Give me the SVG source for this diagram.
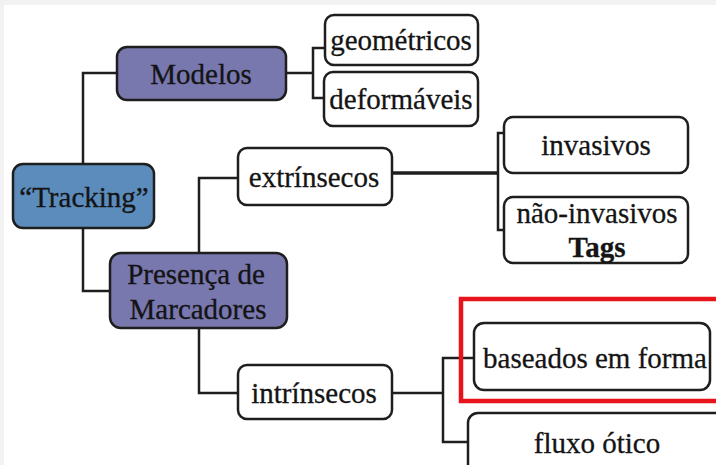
<svg xmlns="http://www.w3.org/2000/svg" width="716" height="465" viewBox="0 0 716 465">
  <style>
    .box { stroke: #1e1e1e; stroke-width: 2.5; }
    .leaf { fill: #ffffff; }
    .root { fill: #5b8cbc; }
    .branch { fill: #7877ae; }
    .lbl { font-family: 'Liberation Serif', 'Times New Roman', Tinos, 'DejaVu Serif', serif; font-size: 29px; fill: #141414; stroke: #141414; stroke-width: 0.3; text-anchor: middle; }
    .bold { font-weight: bold; }
    .wire { fill: none; stroke: #1e1e1e; stroke-width: 2.5; }
    .thick { stroke-width: 3.5; }
  </style>

  <!-- page -->
  <rect x="0" y="0" width="716" height="465" fill="#f2f2f2"/>
  <rect x="4" y="5" width="712" height="460" fill="#ffffff"/>

  <!-- connectors -->
  <g id="connectors">
    <path class="wire" d="M83,164 V73 H117"/>
    <path class="wire" d="M83,228 V291 H110"/>
    <path class="wire" d="M286,73 H313 M325,48 H313 V98 H325"/>
    <path class="wire" d="M199,253 V178 H238"/>
    <path class="wire" d="M199,328 V393 H238"/>
    <path class="wire thick" d="M392,173 H498"/>
    <path class="wire" d="M504,133 H498 V230 H504"/>
    <path class="wire" d="M392,393 H443 M474,358 H443 V442 H469"/>
  </g>

  <g id="tracking">
    <rect class="box root" x="13" y="164" width="141" height="64" rx="10"/>
    <text class="lbl" x="84" y="207">“Tracking”</text>
  </g>

  <g id="modelos">
    <rect class="box branch" x="117" y="47" width="169" height="53" rx="10"/>
    <text class="lbl" x="201" y="84">Modelos</text>
  </g>

  <g id="geometricos">
    <rect class="box leaf" x="325" y="15" width="153" height="50" rx="9"/>
    <text class="lbl" x="401" y="50">geométricos</text>
  </g>

  <g id="deformaveis">
    <rect class="box leaf" x="324" y="72" width="154" height="54" rx="9"/>
    <text class="lbl" x="401" y="109">deformáveis</text>
  </g>

  <g id="presenca">
    <rect class="box branch" x="110" y="253" width="177" height="75" rx="11"/>
    <text class="lbl" x="196" y="284">Presença de</text>
    <text class="lbl" x="198" y="319">Marcadores</text>
  </g>

  <g id="extrinsecos">
    <rect class="box leaf" x="238" y="148" width="154" height="57" rx="9"/>
    <text class="lbl" x="314" y="187">extrínsecos</text>
  </g>

  <g id="invasivos">
    <rect class="box leaf" x="504" y="117" width="184" height="56" rx="9"/>
    <text class="lbl" x="596" y="155">invasivos</text>
  </g>

  <g id="nao-invasivos">
    <rect class="box leaf" x="504" y="197" width="184" height="66" rx="9"/>
    <text class="lbl" x="597" y="223">não-invasivos</text>
    <text class="lbl bold" x="597" y="257">Tags</text>
  </g>

  <g id="intrinsecos">
    <rect class="box leaf" x="238" y="365" width="154" height="54" rx="9"/>
    <text class="lbl" x="314" y="403">intrínsecos</text>
  </g>

  <g id="baseados">
    <rect x="461" y="299" width="270" height="102" fill="none" stroke="#e8141c" stroke-width="4.5"/>
    <rect class="box leaf" x="474" y="323" width="236" height="67" rx="10"/>
    <text class="lbl" x="595" y="368">baseados em forma</text>
  </g>

  <g id="fluxo">
    <rect class="box leaf" x="468" y="413" width="270" height="80" rx="10"/>
    <text class="lbl" x="597" y="453">fluxo ótico</text>
  </g>
</svg>
